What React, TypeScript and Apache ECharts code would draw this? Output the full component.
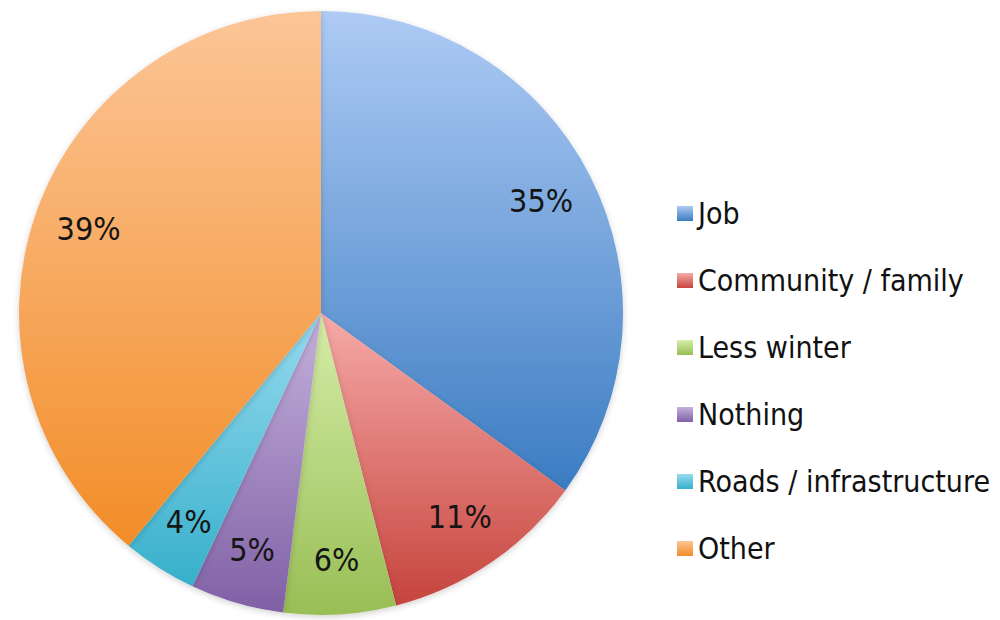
import React, { useEffect, useRef } from "react";
import * as echarts from "echarts";

const categories = ["Job", "Community / family", "Less winter", "Nothing", "Roads / infrastructure", "Other"];
const values = [35, 11, 6, 5, 4, 39];
const topColors = ["#aecbf5", "#f6aaa8", "#d6eda8", "#c4b1db", "#96dbf0", "#fcc597"];
const bottomColors = ["#3b7cc2", "#c6443d", "#98be55", "#8060a6", "#36afca", "#f28d28"];

const FONT = "DejaVu Sans Condensed";

function grad(i: number) {
  return new echarts.graphic.LinearGradient(0, 0, 0, 1, [
    { offset: 0, color: topColors[i] },
    { offset: 1, color: bottomColors[i] },
  ]);
}

export default function App() {
  const ref = useRef<HTMLDivElement>(null);
  useEffect(() => {
    document.body.style.margin = "0";
    const chart = echarts.init(ref.current!, null, { renderer: "svg" });
    const pieData = categories.map((name, i) => ({
      name,
      value: values[i],
      itemStyle: { color: grad(i) },
    }));
    const labelData = categories.map((name, i) => ({ name, value: values[i] }));
    chart.setOption({
      animation: false,
      backgroundColor: "#ffffff",
      legend: {
        orient: "vertical",
        left: 672,
        top: 193,
        icon: "rect",
        itemWidth: 16,
        itemHeight: 15,
        itemGap: 36,
        data: categories.map((name, i) => ({ name, itemStyle: { color: grad(i) } })),
        textStyle: { fontFamily: FONT, fontSize: 30, color: "#111111", lineHeight: 31 },
        selectedMode: false,
      },
      series: [
        {
          type: "pie",
          center: [321, 313],
          radius: [0, 302],
          startAngle: 90,
          clockwise: true,
          silent: true,
          label: { show: false },
          labelLine: { show: false },
          itemStyle: {
            borderWidth: 0,
            shadowBlur: 6,
            shadowColor: "rgba(0,0,0,0.18)",
            shadowOffsetY: 2,
          },
          data: pieData,
        },
        {
          type: "pie",
          center: [321, 313],
          radius: [186, 302],
          startAngle: 90,
          clockwise: true,
          silent: true,
          itemStyle: { color: "rgba(0,0,0,0)" },
          label: {
            show: true,
            position: "inside",
            formatter: "{c}%",
            fontFamily: FONT,
            fontSize: 32,
            color: "#151515",
          },
          labelLine: { show: false },
          data: labelData,
        },
      ],
    });
    return () => chart.dispose();
  }, []);
  return <div ref={ref} style={{ width: 1000, height: 620 }} />;
}
